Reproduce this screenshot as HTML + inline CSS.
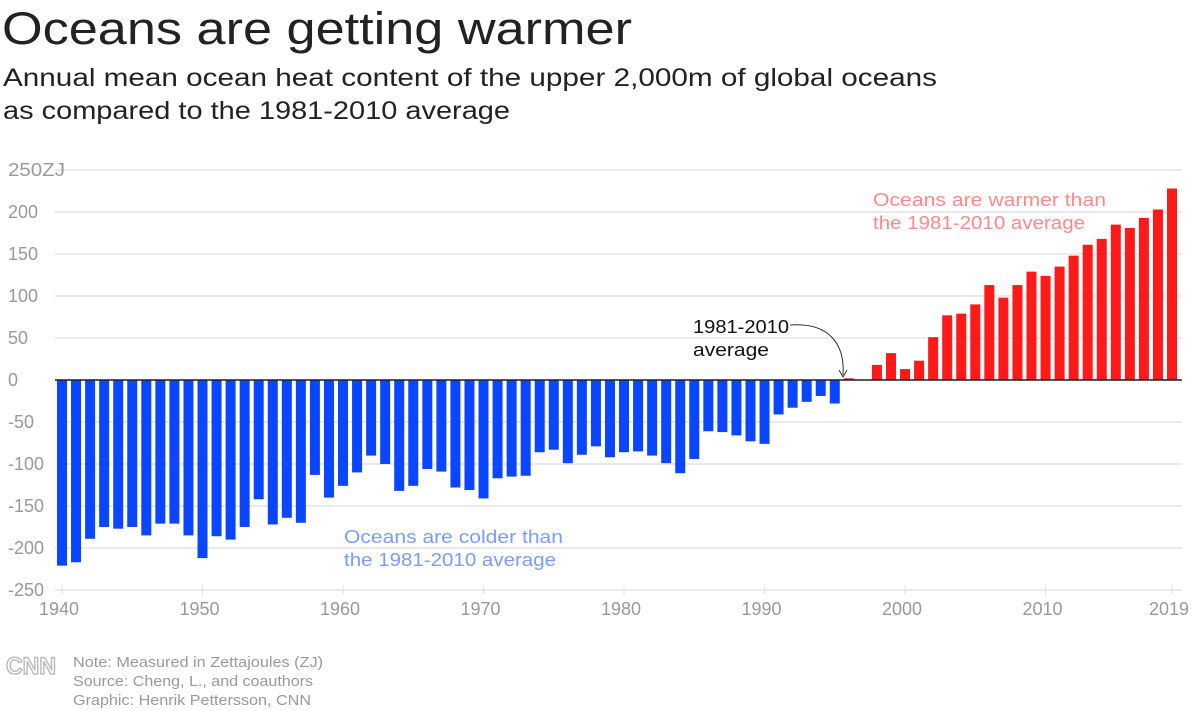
<!DOCTYPE html>
<html><head><meta charset="utf-8"><style>
body{margin:0;width:1200px;height:710px;background:#fff;overflow:hidden;font-family:"Liberation Sans",sans-serif}
svg{position:absolute;left:0;top:0}
</style></head><body>
<svg width="1200" height="710">
<text x="2" y="44" font-size="45" fill="#222" textLength="630" lengthAdjust="spacingAndGlyphs">Oceans are getting warmer</text>
<text x="3" y="86" font-size="25" fill="#222" textLength="934" lengthAdjust="spacingAndGlyphs">Annual mean ocean heat content of the upper 2,000m of global oceans</text>
<text x="3" y="119" font-size="25" fill="#222" textLength="507" lengthAdjust="spacingAndGlyphs">as compared to the 1981-2010 average</text>
<g id="grid"></g>
<g id="bars"></g>
<line x1="55" x2="1182" y1="380" y2="380" stroke="#222" stroke-width="1.5"/>
<g id="xaxis"></g>
<text font-size="18" fill="#ff8a8a"><tspan x="873" y="206" textLength="233" lengthAdjust="spacingAndGlyphs">Oceans are warmer than</tspan><tspan x="873" y="229" textLength="212" lengthAdjust="spacingAndGlyphs">the 1981-2010 average</tspan></text>
<text font-size="18" fill="#7a9cff"><tspan x="344" y="543" textLength="219" lengthAdjust="spacingAndGlyphs">Oceans are colder than</tspan><tspan x="344" y="566" textLength="212" lengthAdjust="spacingAndGlyphs">the 1981-2010 average</tspan></text>
<text font-size="18" fill="#111"><tspan x="693" y="333" textLength="96" lengthAdjust="spacingAndGlyphs">1981-2010</tspan><tspan x="693" y="356" textLength="76" lengthAdjust="spacingAndGlyphs">average</tspan></text>
<path d="M790,325 C830,322 845,345 843,375" fill="none" stroke="#333" stroke-width="1"/>
<path d="M839,370 L843,377 L847,370" fill="none" stroke="#333" stroke-width="1"/>
<text x="6" y="674" font-size="24" font-weight="bold" fill="#fff" stroke="#bbb" stroke-width="1.5" textLength="50" lengthAdjust="spacingAndGlyphs">CNN</text>
<text font-size="15" fill="#999"><tspan x="73" y="667" textLength="250" lengthAdjust="spacingAndGlyphs">Note: Measured in Zettajoules (ZJ)</tspan><tspan x="73" y="686" textLength="240" lengthAdjust="spacingAndGlyphs">Source: Cheng, L., and coauthors</tspan><tspan x="73" y="705" textLength="238" lengthAdjust="spacingAndGlyphs">Graphic: Henrik Pettersson, CNN</tspan></text>
</svg>
<script>
const years=[];for(let y=1940;y<=2019;y++)years.push(y);
const values=[-221,-217,-189,-175,-177,-175,-185,-171,-171,-185,-212,-186,-190,-175,-142,-172,-164,-170,-113,-140,-126,-110,-90,-100,-132,-126,-106,-109,-128,-131,-141,-117,-115,-114,-86,-83,-99,-89,-79,-92,-86,-85,-90,-99,-111,-94,-61,-62,-66,-73,-76,-41,-33,-26,-19,-28,2,0,18,32,13,23,51,77,79,90,113,98,113,129,124,135,148,161,168,185,181,193,203,228];
const yTicks=[250,200,150,100,50,0,-50,-100,-150,-200,-250];
const xTicks=[1940,1950,1960,1970,1980,1990,2000,2010,2019];
const NS='http://www.w3.org/2000/svg';
const yS=v=>380-v*0.84;
const xS=y=>62+(y-1940)*(1110/79);
function mk(t,a,p){const e=document.createElementNS(NS,t);for(const k in a)e.setAttribute(k,a[k]);p.appendChild(e);return e;}
const grid=document.getElementById('grid'),bars=document.getElementById('bars'),xa=document.getElementById('xaxis');
yTicks.forEach(v=>{
  const l=mk('line',{x1:55,x2:1182,y1:yS(v),y2:yS(v),stroke:'#e4e4e4','stroke-width':1.5},grid);
  
  
  const t=mk('text',{x:8,y:yS(v)+6,'font-size':18,fill:'#999'},grid);
  t.textContent=v===250?'250ZJ':String(v);
  if(v===250){t.setAttribute('textLength','57');t.setAttribute('lengthAdjust','spacingAndGlyphs');}
  
  
});
years.forEach((y,i)=>{
  const v=values[i];if(v===0)return;
  const r=mk('rect',{x:xS(y)-5,width:10,y:Math.min(yS(v),380),height:Math.abs(yS(v)-380),fill:v>0?'#ff1a1a':'#0a46ff'},bars);
  
  
});
xTicks.forEach(y=>{
  const l=mk('line',{x1:xS(y),x2:xS(y),y1:586,y2:594,stroke:'#ddd'},xa);
  
  
  const t=mk('text',{x:xS(y)-3,y:615,'font-size':18,fill:'#999','text-anchor':'middle'},xa);
  t.textContent=y;
  
  
});
</script>
</body></html>
